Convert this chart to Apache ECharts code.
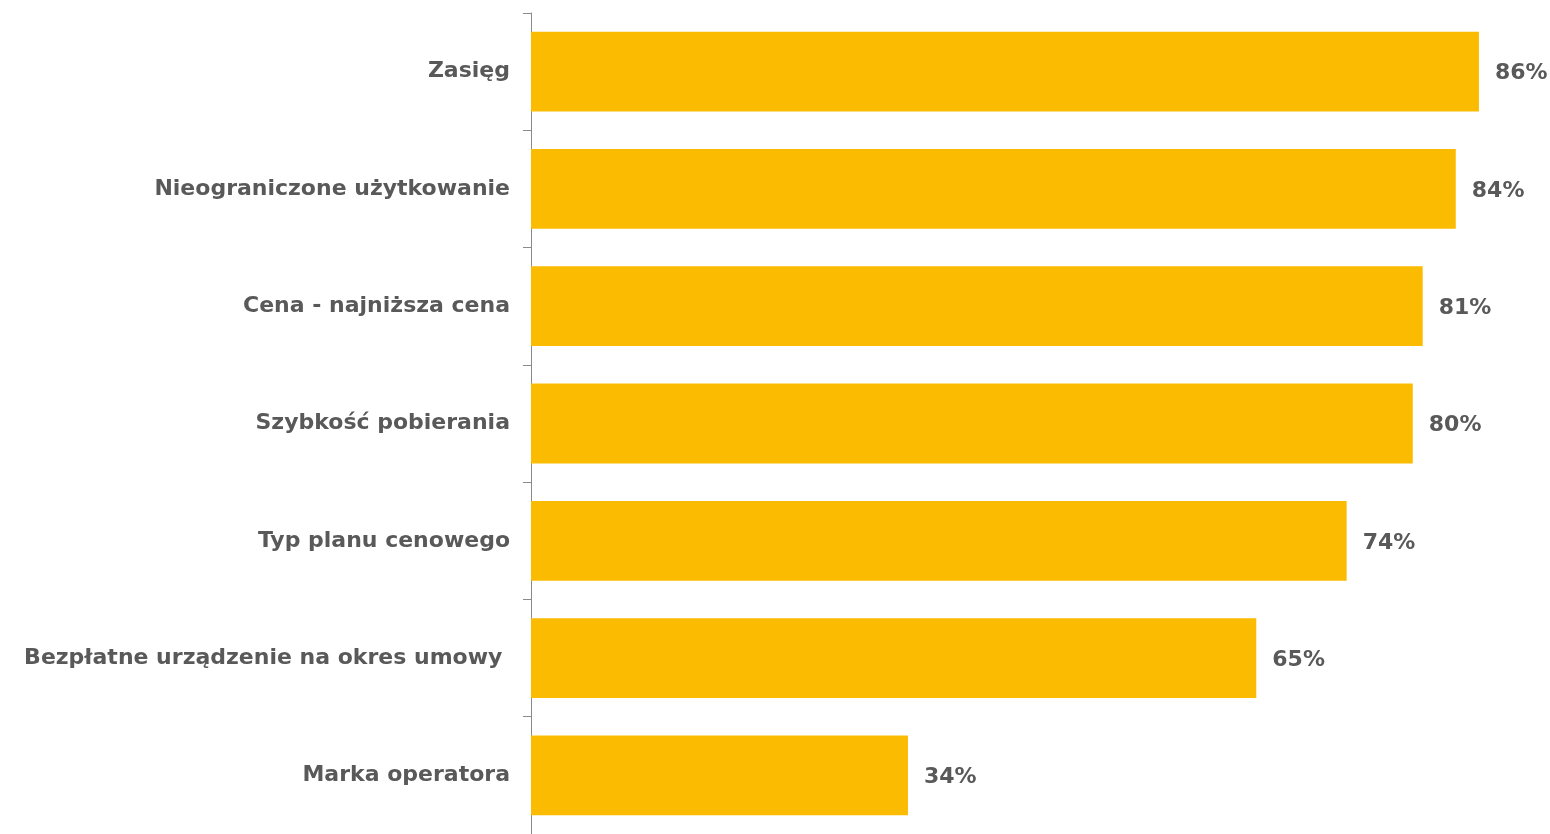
<!DOCTYPE html>
<html>
<head>
<meta charset="utf-8">
<script src="https://cdn.jsdelivr.net/npm/echarts@6/dist/echarts.min.js"></script>
<style>
html,body{margin:0;padding:0;background:#fff;}
#chart{width:1550px;height:834px;}
</style>
</head>
<body>
<div id="chart"></div>
<script>
const categories = [
  'Zasięg',
  'Nieograniczone użytkowanie',
  'Cena - najniższa cena',
  'Szybkość pobierania',
  'Typ planu cenowego',
  'Bezpłatne urządzenie na okres umowy ',
  'Marka operatora'
];
const values = [86, 83.9, 80.9, 80, 74, 65.8, 34.2];
const valueLabels = ['86%', '84%', '81%', '80%', '74%', '65%', '34%'];

const chart = echarts.init(document.getElementById('chart'));
chart.setOption({
  animation: false,
  backgroundColor: '#ffffff',
  grid: { left: 531, right: 27, top: 13, height: 826, containLabel: false },
  xAxis: {
    type: 'value', min: 0, max: 90, show: false
  },
  yAxis: {
    type: 'category',
    inverse: true,
    data: categories,
    axisLine: { show: true, lineStyle: { color: '#8a8a8a', width: 1 } },
    axisTick: { show: true, length: 8, alignWithLabel: false, lineStyle: { color: '#8a8a8a' } },
    axisLabel: {
      margin: 21,
      color: '#595959',
      fontFamily: 'DejaVu Sans, sans-serif',
      fontWeight: 'bold',
      fontSize: 22,
      padding: [3, 0, 0, 0]
    },
    splitLine: { show: false }
  },
  series: [{
    type: 'bar',
    data: values,
    barWidth: '68%',
    itemStyle: { color: '#FABB00' },
    label: {
      show: true,
      position: 'right',
      distance: 16,
      offset: [0, 2],
      color: '#595959',
      fontFamily: 'DejaVu Sans, sans-serif',
      fontWeight: 'bold',
      fontSize: 22,
      padding: [9, 0, 0, 0],
      formatter: p => valueLabels[p.dataIndex]
    }
  }]
});
</script>
</body>
</html>
